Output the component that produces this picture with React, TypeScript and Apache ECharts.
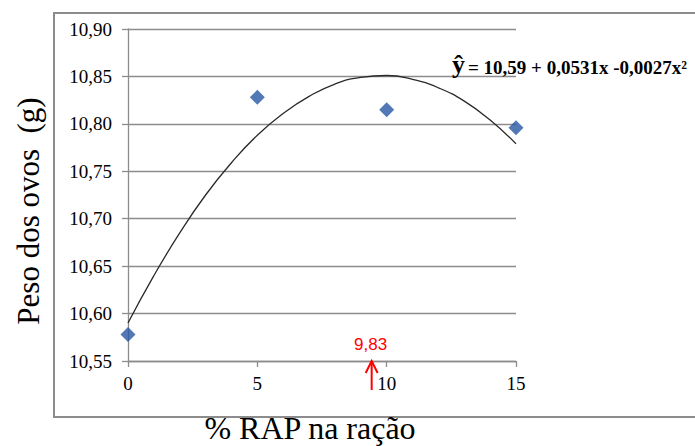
import React, { useEffect, useRef } from "react";
import * as echarts from "echarts";

// Observed points (% RAP vs egg weight)
const xPoints = [0, 5, 10, 15];
const yPoints = [10.578, 10.828, 10.815, 10.796];

// Trend curve
const curveX = [0, 1, 2, 3, 4, 5, 6, 7, 8, 9, 10, 11, 12, 13, 14, 15];
const curveY = [10.59, 10.64, 10.685, 10.725, 10.759, 10.788, 10.811, 10.829, 10.842, 10.849, 10.851, 10.847, 10.838, 10.824, 10.804, 10.779];

const yMin = 10.55;
const yMax = 10.9;
const yStep = 0.05;
const xMin = 0;
const xMax = 15;
const xStep = 5;

const arrowX = 9.42;
const arrowLabel = "9,83";
const equationHat = "ŷ";
const equationText = "= 10,59 + 0,0531x -0,0027x²";
const xAxisTitle = "% RAP na ração";
const yAxisTitle = "Peso dos ovos  (g)";

const SERIF = "Liberation Serif";
const SANS = "Liberation Sans";
const GRAY = "#8c8c8c";

export default function App() {
  const ref = useRef<HTMLDivElement>(null);
  useEffect(() => {
    document.body.style.margin = "0";
    if (!ref.current) return;
    const chart = echarts.init(ref.current, null, { renderer: "svg" });
    const option: any = {
      animation: false,
      backgroundColor: "#ffffff",
      textStyle: { fontFamily: SERIF },
      grid: { left: 128, right: 179, top: 29, bottom: 85, containLabel: false },
      xAxis: {
        type: "value",
        min: xMin,
        max: xMax,
        interval: xStep,
        axisLine: { show: true, lineStyle: { color: GRAY, width: 1.3 } },
        axisTick: { show: true, inside: false, length: 6, lineStyle: { color: GRAY, width: 1.3 } },
        splitLine: { show: false },
        axisLabel: { fontFamily: SERIF, fontSize: 19, color: "#000", margin: 13 },
      },
      yAxis: {
        type: "value",
        min: yMin,
        max: yMax,
        interval: yStep,
        axisLine: { show: true, lineStyle: { color: GRAY, width: 1.3 } },
        axisTick: { show: true, inside: false, length: 6, lineStyle: { color: GRAY, width: 1.3 } },
        splitLine: { show: true, lineStyle: { color: GRAY, width: 1.3 } },
        axisLabel: {
          fontFamily: SERIF,
          fontSize: 19,
          color: "#000",
          margin: 16,
          formatter: (v: number) => v.toFixed(2).replace(".", ","),
        },
      },
      series: [
        {
          type: "line",
          data: curveX.map((x, i) => [x, curveY[i]]),
          smooth: true,
          showSymbol: false,
          lineStyle: { color: "#2a2a2a", width: 1.3 },
          z: 2,
        },
        {
          type: "scatter",
          data: xPoints.map((x, i) => [x, yPoints[i]]),
          symbol: "diamond",
          symbolSize: [15, 15],
          itemStyle: { color: "#2756a3" },
          z: 3,
        },
      ],
    };
    chart.setOption(option);

    const tip = chart.convertToPixel({ gridIndex: 0 }, [arrowX, yMin]) as number[];
    const tx = tip[0];
    const ty = tip[1];
    chart.setOption({
      graphic: [
        {
          type: "rect",
          shape: { x: 54, y: 13, width: 700, height: 404 },
          style: { fill: "none", stroke: GRAY, lineWidth: 2 },
          silent: true,
          z: 0,
        },
        {
          type: "text",
          x: 28,
          y: 211,
          rotation: Math.PI / 2,
          style: { text: yAxisTitle, fontFamily: SERIF, fontSize: 31, fill: "#000", align: "center", verticalAlign: "middle" },
        },
        {
          type: "text",
          x: 310,
          y: 428,
          style: { text: xAxisTitle, fontFamily: SERIF, fontSize: 32, fill: "#000", align: "center", verticalAlign: "middle" },
        },
        {
          type: "text",
          x: 452,
          y: 51,
          style: { text: equationHat, fontFamily: SERIF, fontWeight: "bold", fontSize: 26, fill: "#000", align: "left", verticalAlign: "alphabetic" },
        },
        {
          type: "text",
          x: 468,
          y: 58,
          style: { text: equationText, fontFamily: SERIF, fontWeight: "bold", fontSize: 19, fill: "#000", align: "left", verticalAlign: "alphabetic" },
        },
        {
          type: "line",
          shape: { x1: tx, y1: ty, x2: tx, y2: ty + 29 },
          style: { stroke: "#ff0000", lineWidth: 2 },
          z: 10,
        },
        {
          type: "polyline",
          shape: { points: [[tx - 6, ty + 12], [tx, ty], [tx + 6, ty + 12]] },
          style: { stroke: "#ff0000", lineWidth: 2, fill: "none" },
          z: 10,
        },
        {
          type: "text",
          x: tx - 1,
          y: ty - 17,
          style: { text: arrowLabel, fontFamily: SANS, fontSize: 17, fill: "#ff0000", align: "center", verticalAlign: "middle" },
          z: 10,
        },
      ],
    });
    return () => chart.dispose();
  }, []);
  return <div ref={ref} style={{ width: 695, height: 446 }} />;
}
